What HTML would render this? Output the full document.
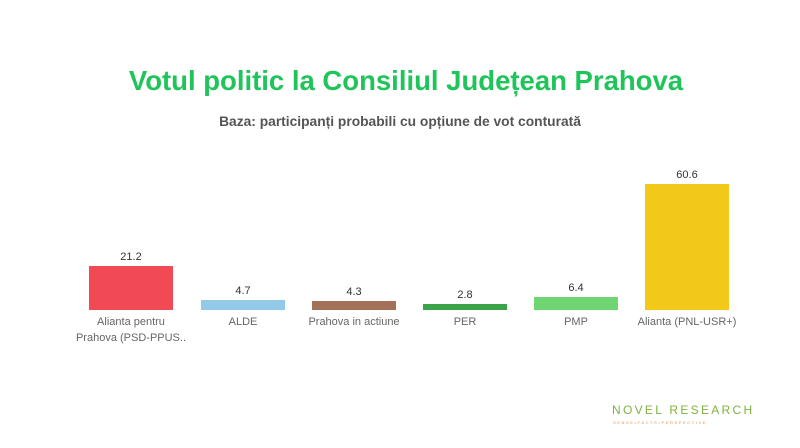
<!DOCTYPE html><html><head><style>
body{margin:0;width:800px;height:448px;background:#fff;position:relative;overflow:hidden;font-family:"Liberation Sans",sans-serif}
.t{position:absolute;left:0;width:812px;text-align:center;top:65px;font-size:27.5px;font-weight:bold;color:#1fc45a}
.s{position:absolute;left:0;width:800px;text-align:center;top:114px;font-size:13.8px;font-weight:bold;color:#555}
.b{position:absolute;width:84px}
.v{position:absolute;width:100px;text-align:center;font-size:11px;color:#333}
.l{position:absolute;width:120px;text-align:center;font-size:11px;color:#666;line-height:16px;top:314px}
</style></head><body>
<div class="t">Votul politic la Consiliul Județean Prahova</div>
<div class="s">Baza: participanți probabili cu opțiune de vot conturată</div>
<div class="b" style="left:89px;top:266px;height:44px;background:#f24a55"></div>
<div class="v" style="left:81px;top:251px">21.2</div>
<div class="l" style="left:71px">Alianta pentru<br>Prahova (PSD-PPUS..</div>
<div class="b" style="left:201px;top:300px;height:10px;background:#93c9e8"></div>
<div class="v" style="left:193px;top:285px">4.7</div>
<div class="l" style="left:183px">ALDE</div>
<div class="b" style="left:312px;top:301px;height:9px;background:#a37058"></div>
<div class="v" style="left:304px;top:286px">4.3</div>
<div class="l" style="left:294px">Prahova in actiune</div>
<div class="b" style="left:423px;top:304px;height:6px;background:#3aa247"></div>
<div class="v" style="left:415px;top:289px">2.8</div>
<div class="l" style="left:405px">PER</div>
<div class="b" style="left:534px;top:297px;height:13px;background:#6fd472"></div>
<div class="v" style="left:526px;top:282px">6.4</div>
<div class="l" style="left:516px">PMP</div>
<div class="b" style="left:645px;top:184px;height:126px;background:#f2c918"></div>
<div class="v" style="left:637px;top:169px">60.6</div>
<div class="l" style="left:627px">Alianta (PNL-USR+)</div>
<div style="position:absolute;left:612px;top:403px;font-size:12px;letter-spacing:2.3px;color:#7cb342">NOVEL RESEARCH</div>
<div style="position:absolute;left:613px;top:420px;font-size:4px;letter-spacing:1.6px;color:#e8904a">SENSE•FACTS•PERSPECTIVE</div>
</body></html>
